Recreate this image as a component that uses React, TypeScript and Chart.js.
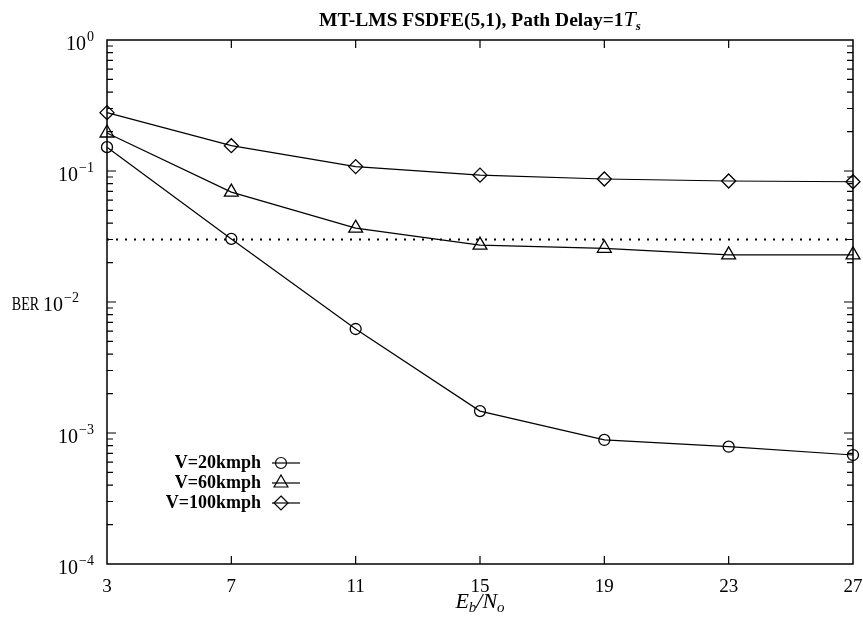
import React, { useEffect, useRef } from 'react';
import { Chart, registerables } from 'chart.js';

Chart.register(...registerables);

// ---- data ----
const snrDb = [3, 7, 11, 15, 19, 23, 27];
const ber20 = [0.152, 0.0303, 0.00622, 0.00147, 0.000885, 0.000786, 0.000679];
const ber60 = [0.195, 0.069, 0.0366, 0.0272, 0.0257, 0.0229, 0.0229];
const ber100 = [0.279, 0.156, 0.108, 0.093, 0.0869, 0.0839, 0.0828];
const thresholdBer = 0.03;
const seriesLabels = ['V=20kmph', 'V=60kmph', 'V=100kmph'];
const seriesStyles = ['circle', 'triangle', 'rectRot'];
const xTickValues = [3, 7, 11, 15, 19, 23, 27];
const yDecades = [1, 0.1, 0.01, 0.001, 0.0001];
const yDecadeExponents = ['0', '−1', '−2', '−3', '−4'];
const yAxisTitle = 'BER';
const titleText = 'MT-LMS FSDFE(5,1), Path Delay=1';
const titleSym = 'T';
const titleSub = 's';

const SERIF = '"Liberation Serif", "DejaVu Serif", serif';

function drawMarker(ctx: CanvasRenderingContext2D, style: string, x: number, y: number) {
  ctx.beginPath();
  if (style === 'circle') {
    ctx.arc(x, y, 5.5, 0, Math.PI * 2);
  } else if (style === 'triangle') {
    const r = 8;
    ctx.moveTo(x, y - r);
    ctx.lineTo(x + r * 0.866, y + r * 0.5);
    ctx.lineTo(x - r * 0.866, y + r * 0.5);
    ctx.closePath();
  } else {
    const r = 7;
    ctx.moveTo(x, y - r);
    ctx.lineTo(x + r, y);
    ctx.lineTo(x, y + r);
    ctx.lineTo(x - r, y);
    ctx.closePath();
  }
  ctx.stroke();
}

// draws "10^exp" right-aligned at rightX, digits centred near y; returns the left x
function drawPow(ctx: CanvasRenderingContext2D, exp: string, rightX: number, y: number) {
  const fBase = `20px ${SERIF}`;
  const fExp = `14px ${SERIF}`;
  ctx.textAlign = 'left';
  ctx.textBaseline = 'alphabetic';
  ctx.font = fExp;
  const we = ctx.measureText(exp).width;
  ctx.font = fBase;
  const wb = ctx.measureText('10').width;
  const x0 = rightX - we - wb - 1;
  const baseLine = y + 9;
  ctx.fillText('10', x0, baseLine);
  ctx.font = fExp;
  ctx.fillText(exp, x0 + wb + 1, baseLine - 9);
  return x0;
}

const decorPlugin = {
  id: 'decor',
  afterDraw(chart: any) {
    const { ctx, chartArea } = chart;
    const { left, right, top, bottom } = chartArea;
    const xs = chart.scales.x;
    const ys = chart.scales.y;
    ctx.save();
    ctx.strokeStyle = '#000';
    ctx.fillStyle = '#000';
    ctx.lineWidth = 1.5;
    ctx.strokeRect(left, top, right - left, bottom - top);

    // inward tick marks
    ctx.lineWidth = 1.2;
    ctx.beginPath();
    for (const v of xTickValues) {
      if (v === xs.min || v === xs.max) continue;
      const px = xs.getPixelForValue(v);
      ctx.moveTo(px, bottom);
      ctx.lineTo(px, bottom - 8);
      ctx.moveTo(px, top);
      ctx.lineTo(px, top + 8);
    }
    for (let e = -4; e < 0; e++) {
      for (let m = 1; m <= 9; m++) {
        if (m === 1 && e === -4) continue;
        const v = m * Math.pow(10, e);
        const py = ys.getPixelForValue(v);
        const len = m === 1 ? 9 : 6;
        ctx.moveTo(left, py);
        ctx.lineTo(left + len, py);
        ctx.moveTo(right, py);
        ctx.lineTo(right - len, py);
      }
    }
    ctx.stroke();

    // y tick labels (10^n with real superscripts)
    yDecades.forEach((d, i) => {
      const py = ys.getPixelForValue(d);
      if (i === 2) {
        const x0 = drawPow(ctx, yDecadeExponents[i], 79, py);
        ctx.save();
        ctx.translate(x0 - 4, py + 8);
        ctx.scale(0.74, 1);
        ctx.font = `19px ${SERIF}`;
        ctx.textAlign = 'right';
        ctx.textBaseline = 'alphabetic';
        ctx.fillText(yAxisTitle, 0, 0);
        ctx.restore();
      } else {
        drawPow(ctx, yDecadeExponents[i], 94, py + 1);
      }
    });

    // title
    const cx = (left + right) / 2;
    const fMain = `bold 19.5px ${SERIF}`;
    const fSym = `italic 22px ${SERIF}`;
    const fSub = `italic bold 13px ${SERIF}`;
    ctx.font = fMain;
    const w1 = ctx.measureText(titleText).width;
    ctx.font = fSym;
    const w2 = ctx.measureText(titleSym).width;
    ctx.font = fSub;
    const w3 = ctx.measureText(titleSub).width;
    let tx = cx - (w1 + w2 + w3) / 2;
    const tb = 26;
    ctx.textAlign = 'left';
    ctx.textBaseline = 'alphabetic';
    ctx.font = fMain;
    ctx.fillText(titleText, tx, tb);
    tx += w1;
    ctx.font = fSym;
    ctx.fillText(titleSym, tx, tb);
    tx += w2;
    ctx.font = fSub;
    ctx.fillText(titleSub, tx, tb + 4);

    // x axis title E_b/N_o
    const parts: [string, string, number][] = [
      ['E', `italic 22px ${SERIF}`, 0],
      ['b', `italic 15px ${SERIF}`, 4],
      ['/N', `italic 22px ${SERIF}`, 0],
      ['o', `italic 15px ${SERIF}`, 4],
    ];
    let total = 0;
    for (const [t, f] of parts) {
      ctx.font = f;
      total += ctx.measureText(t).width;
    }
    let ax = cx - total / 2;
    for (const [t, f, dy] of parts) {
      ctx.font = f;
      ctx.fillText(t, ax, 608 + dy);
      ax += ctx.measureText(t).width;
    }

    // legend
    ctx.font = `bold 18px ${SERIF}`;
    ctx.textAlign = 'right';
    ctx.textBaseline = 'middle';
    ctx.lineWidth = 1.2;
    seriesLabels.forEach((lab, i) => {
      const ly = 463 + 20 * i;
      ctx.fillText(lab, 261, ly);
      ctx.beginPath();
      ctx.moveTo(272, ly);
      ctx.lineTo(300, ly);
      ctx.stroke();
      drawMarker(ctx, seriesStyles[i], 281, ly);
    });
    ctx.restore();
  },
};

export default function App() {
  const ref = useRef<HTMLCanvasElement | null>(null);
  useEffect(() => {
    document.body.style.margin = '0';
    const toPts = (arr: number[]) => snrDb.map((x, i) => ({ x, y: arr[i] }));
    const mk = (label: string, arr: number[], style: string, r: number) => ({
      label,
      data: toPts(arr),
      borderColor: '#000',
      borderWidth: 1.2,
      pointStyle: style,
      pointRadius: r,
      pointBorderColor: '#000',
      pointBackgroundColor: 'rgba(0,0,0,0)',
      pointBorderWidth: 1.3,
      tension: 0,
      clip: false as any,
    });
    const chart = new Chart(ref.current!, {
      type: 'line',
      data: {
        datasets: [
          mk(seriesLabels[0], ber20, 'circle', 5.5),
          mk(seriesLabels[1], ber60, 'triangle', 8),
          mk(seriesLabels[2], ber100, 'rectRot', 7),
          {
            label: 'threshold',
            data: [
              { x: snrDb[0], y: thresholdBer },
              { x: snrDb[snrDb.length - 1], y: thresholdBer },
            ],
            borderColor: '#000',
            borderWidth: 2,
            borderDash: [2, 7],
            pointRadius: 0,
            clip: false as any,
          } as any,
        ],
      },
      options: {
        responsive: false,
        animation: false,
        layout: { padding: { top: 40, right: 10, left: 0, bottom: 0 } },
        plugins: { legend: { display: false }, title: { display: false }, tooltip: { enabled: false } },
        scales: {
          x: {
            type: 'linear',
            min: 3,
            max: 27,
            grid: { display: false, drawTicks: false },
            border: { display: false },
            afterBuildTicks: (s: any) => {
              s.ticks = xTickValues.map((value) => ({ value }));
            },
            afterFit: (s: any) => {
              s.height = 54;
              s.paddingLeft = 0;
              s.paddingRight = 0;
            },
            ticks: {
              padding: 12,
              color: '#000',
              font: { family: SERIF, size: 19 },
              maxRotation: 0,
              autoSkip: false,
              callback: (v: any) => String(v),
            },
          },
          y: {
            type: 'logarithmic',
            min: 1e-4,
            max: 1,
            grid: { display: false, drawTicks: false },
            border: { display: false },
            afterBuildTicks: (s: any) => {
              s.ticks = yDecades.map((value) => ({ value, major: true }));
            },
            afterFit: (s: any) => {
              s.width = 107;
              s.paddingTop = 0;
              s.paddingBottom = 0;
            },
            ticks: {
              display: false,
            },
          },
        },
      } as any,
      plugins: [decorPlugin],
    });
    return () => chart.destroy();
  }, []);
  return (
    <div style={{ width: 863, height: 618, background: '#fff' }}>
      <canvas ref={ref} width={863} height={618} />
    </div>
  );
}
